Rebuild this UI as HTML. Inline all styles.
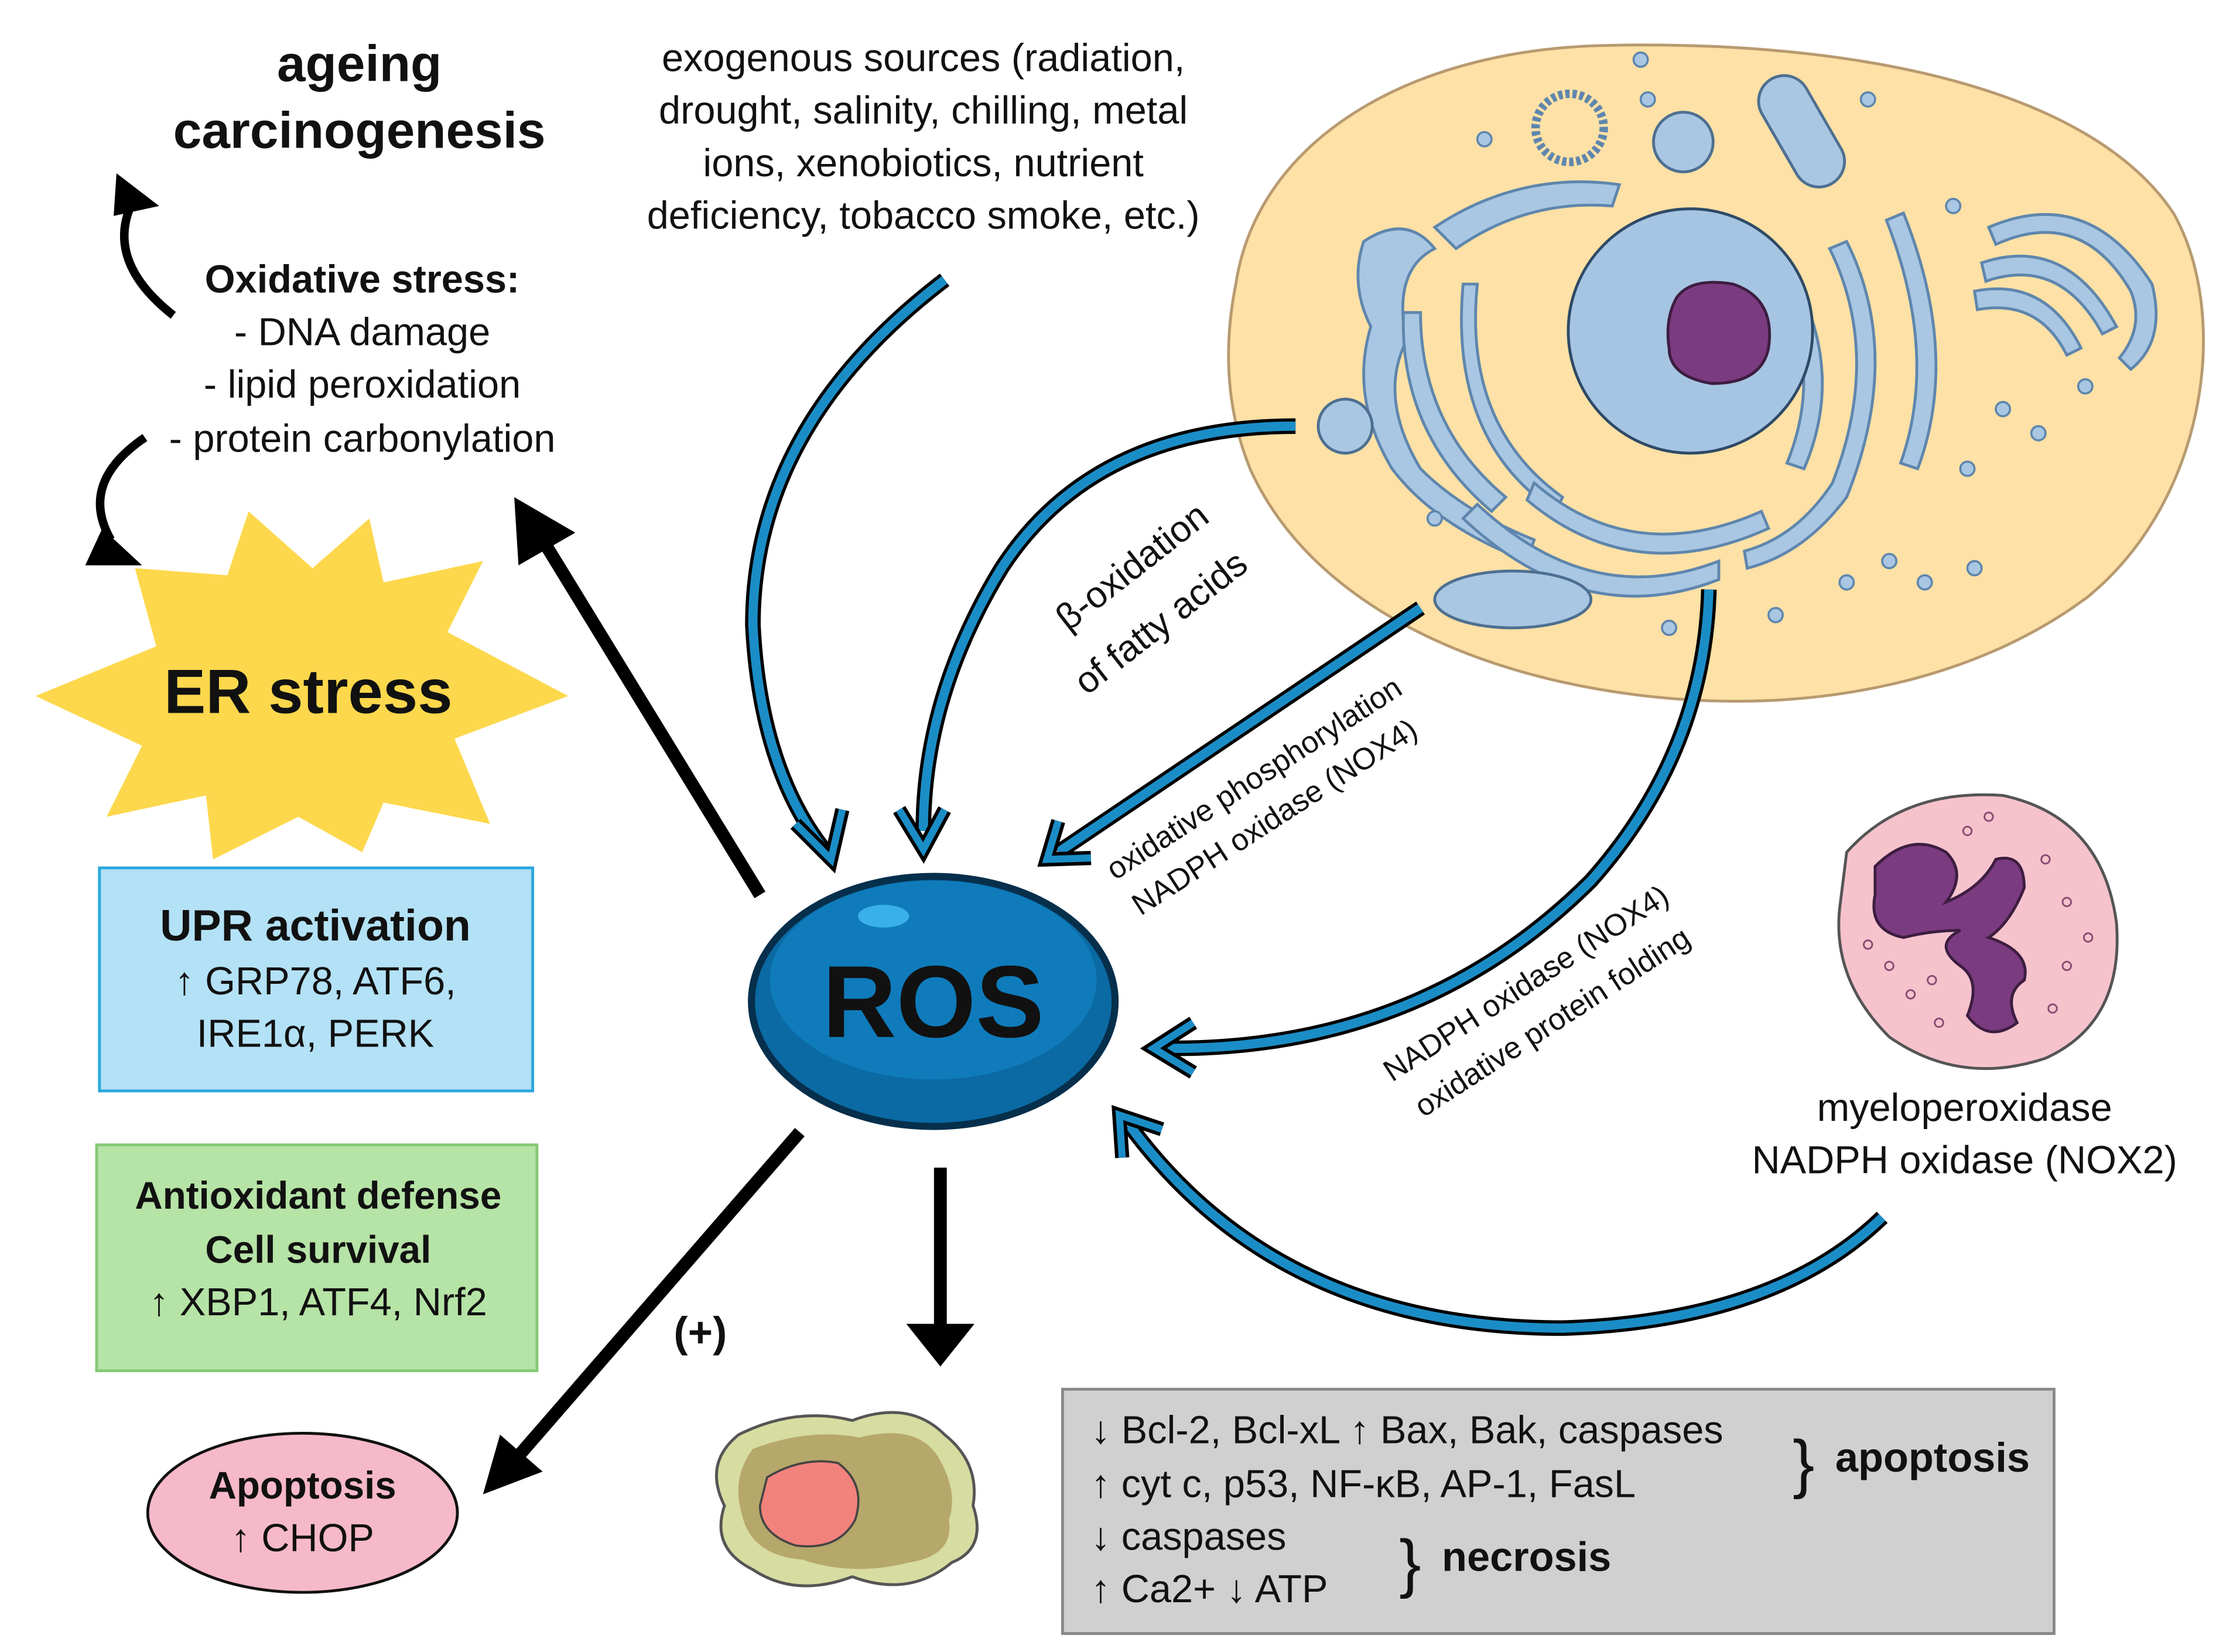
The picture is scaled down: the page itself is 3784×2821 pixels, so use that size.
<!DOCTYPE html>
<html><head><meta charset="utf-8"><style>
html,body{margin:0;padding:0;background:#fff}
svg{display:block}
text{font-family:"Liberation Sans",Arial,sans-serif;fill:#111}
</style></head><body>
<svg width="3784" height="2821" viewBox="0 0 1560 1163" xmlns="http://www.w3.org/2000/svg">
<!-- Cell -->
<path d="M870,200 C885,100 990,35 1130,32 C1300,28 1470,60 1530,150 C1570,220 1555,350 1470,420 C1390,480 1280,500 1180,492 C1050,482 925,430 880,330 C862,285 862,240 870,200 Z" fill="#fde1a6" stroke="#b89a70" stroke-width="2"/>
<g fill="#a9c7e3" stroke="#5f86ad" stroke-width="2">
<path d="M1010,160 Q1070,120 1140,130 L1135,145 Q1075,140 1025,175 Z"/>
<path d="M960,170 Q990,150 1010,175 Q980,190 990,240 Q970,280 1000,330 Q1030,360 1080,380 L1075,395 Q1010,370 980,330 Q950,280 965,230 Q950,200 960,170 Z"/>
<path d="M1000,220 Q1000,300 1060,350 L1050,360 Q985,305 988,220 Z"/>
<path d="M1040,200 Q1030,300 1100,350 L1095,360 Q1020,310 1030,200 Z"/>
<path d="M1080,340 Q1150,400 1240,360 L1245,372 Q1150,415 1075,352 Z"/>
<path d="M1040,355 Q1120,430 1210,395 L1210,408 Q1115,445 1030,365 Z"/>
<path d="M1300,170 Q1340,250 1300,350 Q1270,390 1230,400 L1228,388 Q1265,378 1290,340 Q1325,250 1288,175 Z"/>
<path d="M1260,190 Q1300,260 1270,330 L1258,326 Q1285,260 1250,195 Z"/>
<path d="M1340,150 Q1380,250 1350,330 L1338,326 Q1365,250 1328,155 Z"/>
<path d="M1400,160 Q1470,130 1515,200 Q1525,240 1500,260 L1492,252 Q1510,230 1500,205 Q1465,145 1405,172 Z"/>
<path d="M1395,185 Q1455,165 1490,230 L1480,235 Q1450,180 1398,198 Z"/>
<path d="M1390,205 Q1440,195 1465,245 L1455,250 Q1435,210 1392,218 Z"/>
</g>
<g fill="#a9c7e3" stroke="#4e6f91" stroke-width="2">
<circle cx="947" cy="300" r="19"/><circle cx="1185" cy="100" r="21"/>
<ellipse cx="1065" cy="422" rx="55" ry="20"/>
<rect x="1250" y="50" width="36" height="85" rx="18" transform="rotate(-30 1268 92)"/>
</g>
<circle cx="1105" cy="90" r="24" fill="none" stroke="#5f86ad" stroke-width="6" stroke-dasharray="3 2"/>
<g fill="#a9c7e3" stroke="#5f86ad" stroke-width="1.5">
<circle cx="1155" cy="42" r="5"/><circle cx="1160" cy="70" r="5"/><circle cx="1045" cy="98" r="5"/><circle cx="1315" cy="70" r="5"/>
<circle cx="1375" cy="145" r="5"/><circle cx="1435" cy="305" r="5"/><circle cx="1468" cy="272" r="5"/><circle cx="1385" cy="330" r="5"/>
<circle cx="1410" cy="288" r="5"/><circle cx="1175" cy="442" r="5"/><circle cx="1250" cy="433" r="5"/><circle cx="1390" cy="400" r="5"/>
<circle cx="1010" cy="365" r="5"/><circle cx="1355" cy="410" r="5"/><circle cx="1330" cy="395" r="5"/><circle cx="1300" cy="410" r="5"/>
</g>
<circle cx="1190" cy="233" r="86" fill="#a6c5e2" stroke="#2f4a66" stroke-width="2"/>
<path d="M1180,210 Q1190,195 1220,200 Q1250,210 1245,245 Q1240,270 1205,270 Q1175,265 1175,245 Q1172,225 1180,210 Z" fill="#7b3b80" stroke="#3d1d40" stroke-width="2"/>

<!-- Neutrophil -->
<path d="M1300,600 Q1340,555 1410,560 Q1480,575 1490,650 Q1495,720 1440,745 Q1380,765 1330,730 Q1290,690 1295,640 Z" fill="#f6c3cd" stroke="#555" stroke-width="2"/>
<path d="M1320,610 Q1345,585 1370,600 Q1385,615 1370,635 Q1395,625 1405,605 Q1425,600 1425,625 Q1415,650 1400,660 Q1430,670 1425,690 Q1410,700 1420,720 Q1400,735 1385,715 Q1395,690 1380,680 Q1360,665 1380,655 Q1360,655 1340,660 Q1315,655 1320,630 Z" fill="#7b3b80" stroke="#3d1d40" stroke-width="2"/>
<g fill="none" stroke="#8a4a70" stroke-width="1.2">
<circle cx="1385" cy="585" r="3"/><circle cx="1400" cy="575" r="3"/><circle cx="1440" cy="605" r="3"/><circle cx="1455" cy="635" r="3"/>
<circle cx="1330" cy="680" r="3"/><circle cx="1345" cy="700" r="3"/><circle cx="1365" cy="720" r="3"/><circle cx="1455" cy="680" r="3"/>
<circle cx="1445" cy="710" r="3"/><circle cx="1360" cy="690" r="3"/><circle cx="1315" cy="665" r="3"/><circle cx="1470" cy="660" r="3"/>
</g>

<!-- Text top -->
<text x="253" y="57" font-size="36" font-weight="bold" text-anchor="middle">ageing</text>
<text x="253" y="104" font-size="36" font-weight="bold" text-anchor="middle">carcinogenesis</text>
<g font-size="27.5" text-anchor="middle">
<text x="650" y="50">exogenous sources (radiation,</text>
<text x="650" y="87">drought, salinity, chilling, metal</text>
<text x="650" y="124">ions, xenobiotics, nutrient</text>
<text x="650" y="161">deficiency, tobacco smoke, etc.)</text>
</g>
<g font-size="27.5" text-anchor="middle">
<text x="255" y="206" font-weight="bold">Oxidative stress:</text>
<text x="255" y="243">- DNA damage</text>
<text x="255" y="280">- lipid peroxidation</text>
<text x="255" y="318">- protein carbonylation</text>
</g>
<!-- black curved arrows -->
<path d="M122,222 Q75,185 92,145" fill="none" stroke="#000" stroke-width="6"/>
<path d="M82,122 L112,145 L80,152 Z" fill="#000"/>
<path d="M102,308 Q55,340 78,380" fill="none" stroke="#000" stroke-width="6"/>
<path d="M60,398 L100,398 L72,372 Z" fill="#000"/>

<!-- ER stress star -->
<polygon points="25,490 110,455 95,400 160,405 175,360 220,400 260,365 270,410 340,395 315,445 400,490 320,520 345,580 270,565 255,600 210,575 150,605 145,560 75,575 100,525" fill="#fdd84d"/>
<text x="217" y="502" font-size="44" font-weight="bold" text-anchor="middle">ER stress</text>

<!-- UPR box -->
<rect x="70" y="611" width="305" height="157" fill="#b3e1f6" stroke="#2aa7dd" stroke-width="2"/>
<text x="222" y="662" font-size="31" font-weight="bold" text-anchor="middle">UPR activation</text>
<text x="222" y="700" font-size="27.5" text-anchor="middle">↑  GRP78, ATF6,</text>
<text x="222" y="737" font-size="27.5" text-anchor="middle">IRE1α, PERK</text>

<!-- Antioxidant box -->
<rect x="68" y="806" width="310" height="159" fill="#b6e3a6" stroke="#86c875" stroke-width="2"/>
<text x="224" y="851" font-size="27" font-weight="bold" text-anchor="middle">Antioxidant defense</text>
<text x="224" y="889" font-size="27" font-weight="bold" text-anchor="middle">Cell survival</text>
<text x="224" y="926" font-size="27.5" text-anchor="middle">↑  XBP1, ATF4, Nrf2</text>

<!-- Apoptosis ellipse -->
<ellipse cx="213" cy="1065" rx="109" ry="56" fill="#f6b9c9" stroke="#111" stroke-width="2"/>
<text x="213" y="1055" font-size="27" font-weight="bold" text-anchor="middle">Apoptosis</text>
<text x="213" y="1092" font-size="27.5" text-anchor="middle">↑  CHOP</text>

<!-- Black arrows -->
<line x1="535" y1="630" x2="385" y2="385" stroke="#000" stroke-width="9"/>
<path d="M362,350 L405,375 L365,398 Z" fill="#000"/>
<line x1="563" y1="797" x2="365" y2="1025" stroke="#000" stroke-width="9"/>
<path d="M340,1052 L352,1010 L382,1036 Z" fill="#000"/>
<line x1="662" y1="822" x2="662" y2="935" stroke="#000" stroke-width="9"/>
<path d="M638,932 L686,932 L662,962 Z" fill="#000"/>
<text x="493" y="948" font-size="30" font-weight="bold" text-anchor="middle">(+)</text>

<!-- dead cell -->
<path d="M520,1010 Q560,990 600,1000 Q640,985 665,1010 Q690,1030 685,1060 Q695,1090 670,1100 Q640,1125 600,1110 Q560,1125 530,1105 Q500,1090 510,1060 Q495,1030 520,1010 Z" fill="#d7dca1" stroke="#555" stroke-width="2"/>
<path d="M530,1020 Q570,1005 605,1012 Q645,1002 660,1025 Q675,1050 668,1070 Q672,1095 640,1100 Q600,1110 565,1098 Q528,1095 522,1065 Q515,1040 530,1020 Z" fill="#b6a76a"/>
<path d="M540,1040 Q565,1025 590,1030 Q610,1045 602,1070 Q590,1092 560,1088 Q535,1080 535,1060 Z" fill="#f2827c" stroke="#444" stroke-width="1.5"/>

<!-- gray box -->
<rect x="748" y="978" width="698" height="172" fill="#d0d0d0" stroke="#888" stroke-width="2"/>
<g font-size="27.5">
<text x="768" y="1016">↓  Bcl-2, Bcl-xL   ↑ Bax, Bak, caspases</text>
<text x="768" y="1054">↑  cyt c, p53, NF-κB, AP-1, FasL</text>
<text x="768" y="1091">↓  caspases</text>
<text x="768" y="1128">↑  Ca2+  ↓ ATP</text>
<text x="1262" y="1046" font-size="46">}</text>
<text x="1292" y="1036" font-weight="bold" font-size="29">apoptosis</text>
<text x="985" y="1116" font-size="46">}</text>
<text x="1015" y="1106" font-weight="bold" font-size="29">necrosis</text>
</g>

<!-- Blue arrows -->
<g fill="none" stroke-linecap="butt">
<g stroke="#000" stroke-width="11">
<path d="M665,197 Q530,300 530,440 Q535,540 580,598"/>
<path d="M912,300 Q770,300 705,400 Q650,490 650,585"/>
<path d="M1000,428 L745,600"/>
<path d="M1203,415 Q1200,530 1120,620 Q1000,740 820,738"/>
<path d="M1325,857 Q1250,930 1100,935 Q900,935 795,792"/>
</g>
<g stroke="#1b8dc6" stroke-width="6.5">
<path d="M665,197 Q530,300 530,440 Q535,540 580,598"/>
<path d="M912,300 Q770,300 705,400 Q650,490 650,585"/>
<path d="M1000,428 L745,600"/>
<path d="M1203,415 Q1200,530 1120,620 Q1000,740 820,738"/>
<path d="M1325,857 Q1250,930 1100,935 Q900,935 795,792"/>
</g>
<g stroke="#000" stroke-width="10">
<path d="M560,580 L585,605 L593,570"/>
<path d="M633,570 L650,598 L665,570"/>
<path d="M745,578 L737,605 L768,604"/>
<path d="M840,720 L812,738 L840,755"/>
<path d="M790,815 L788,785 L818,795"/>
</g>
<g stroke="#1b8dc6" stroke-width="5">
<path d="M560,580 L585,605 L593,570"/>
<path d="M633,570 L650,598 L665,570"/>
<path d="M745,578 L737,605 L768,604"/>
<path d="M840,720 L812,738 L840,755"/>
<path d="M790,815 L788,785 L818,795"/>
</g>
</g>

<!-- ROS -->
<ellipse cx="657" cy="705" rx="128" ry="88" fill="#0b6aa3" stroke="#062f4c" stroke-width="5"/>
<ellipse cx="657" cy="690" rx="115" ry="70" fill="#0f7bbb"/>
<ellipse cx="622" cy="645" rx="18" ry="8" fill="#3ab0e8"/>
<text x="657" y="730" font-size="72" font-weight="bold" text-anchor="middle" fill="#000">ROS</text>

<!-- rotated labels -->
<g font-size="26">
<text transform="translate(752,445) rotate(-38)">β-oxidation</text>
<text transform="translate(765,490) rotate(-38)">of fatty acids</text>
</g>
<g font-size="21.5">
<text transform="translate(785,620) rotate(-33)">oxidative phosphorylation</text>
<text transform="translate(803,645) rotate(-33)">NADPH oxidase (NOX4)</text>
<text transform="translate(980,762) rotate(-33)">NADPH oxidase (NOX4)</text>
<text transform="translate(1002,787) rotate(-33)">oxidative protein folding</text>
</g>
<text x="1383" y="789" font-size="27.5" text-anchor="middle">myeloperoxidase</text>
<text x="1383" y="826" font-size="27.5" text-anchor="middle">NADPH oxidase (NOX2)</text>
</svg>
</body></html>
